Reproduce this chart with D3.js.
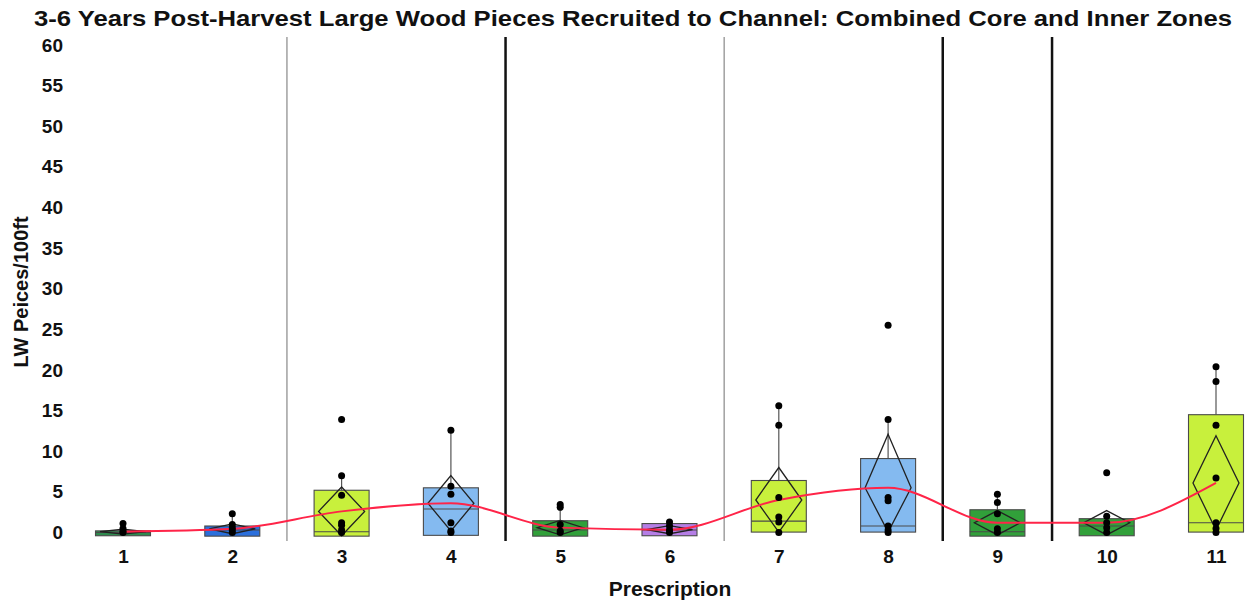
<!DOCTYPE html>
<html><head><meta charset="utf-8">
<script src="https://cdn.jsdelivr.net/npm/d3@7"></script>
<style>body{margin:0;background:#fff}svg{display:block}text{font-family:"Liberation Sans",Arial,sans-serif;font-weight:bold;fill:#111}</style>
</head><body><svg id="c" width="1249" height="605"></svg>
<script>
const categories = ["1","2","3","4","5","6","7","8","9","10","11"];
const q1Values     = [-0.4,-0.45,-0.45,-0.35,-0.45,-0.4,0.05,0.05,-0.45,-0.4,0.05];
const medianValues = [0,0.3,0.1,2.9,0.3,0.3,1.4,0.8,0.1,0.8,1.2];
const q3Values     = [0.2,0.8,5.2,5.5,1.45,1.1,6.4,9.1,2.8,1.7,14.5];
const whiskerHi    = [1.1,2.3,7.0,12.6,3.45,1.3,15.6,13.9,4.7,2.0,20.4];
const meanValues   = [0.1,0.45,2.6,3.6,0.6,0.35,4.0,5.5,1.2,1.2,6.1];
const ciHalf       = [0.3,0.6,3.0,3.4,0.9,0.5,4.0,6.6,1.5,1.5,5.8];
const pointValues  = [
  [0,0.2,0.5,1.1],
  [0,0.3,0.6,1.0,2.3],
  [0,0.3,0.9,1.2,4.6,7.0,13.9],
  [0,0.2,1.2,4.7,5.7,12.6],
  [0,0.2,1.0,3.1,3.45],
  [0,0.3,0.8,1.3],
  [0,1.3,1.9,4.3,13.2,15.6],
  [0,0.3,0.8,3.9,4.3,13.9,25.5],
  [0,0.45,2.3,3.7,4.7],
  [0,0.6,1.2,2.0,7.35],
  [0,0.5,1.2,6.7,13.2,18.6,20.4]
];
const boxColors = ["#2e8b4e","#2b6fdc","#c8f03c","#84baf0","#31a03a","#b57ee6","#c8f03c","#84baf0","#31a03a","#31a03a","#c8f03c"];
const separators = [{after:"2",kind:"thin"},{after:"4",kind:"thick"},{after:"6",kind:"thin"},{after:"8",kind:"thick"},{after:"9",kind:"thick"}];
const yTicks = d3.range(0,61,5);
const titleText = "3-6 Years Post-Harvest Large Wood Pieces Recruited to Channel: Combined Core and Inner Zones";

const svg = d3.select("#c");
const x = d3.scalePoint().domain(categories).range([123,1216]);
const y = d3.scaleLinear().domain([0,60]).range([532.5,45]);
const step = x.step();
const boxW = 55, diaW = 46;

separators.forEach(s=>{
  const xi = x(s.after)+step/2;
  svg.append("line").attr("x1",xi).attr("x2",xi).attr("y1",37).attr("y2",541)
    .attr("stroke",s.kind==="thick"?"#111":"#888").attr("stroke-width",s.kind==="thick"?2.5:1.2);
});

const ya = svg.append("g").attr("transform","translate(63,0)")
  .call(d3.axisLeft(y).tickValues(yTicks).tickSize(0).tickPadding(0));
ya.select(".domain").remove();
ya.selectAll("text").style("font-size","19px").style("font-family","'Liberation Sans',Arial,sans-serif").style("font-weight","bold").attr("fill","#111");

const xa = svg.append("g").attr("transform","translate(0,549)")
  .call(d3.axisBottom(x).tickSize(0).tickPadding(0));
xa.select(".domain").remove();
xa.selectAll("text").style("font-size","19px").style("font-family","'Liberation Sans',Arial,sans-serif").style("font-weight","bold").attr("fill","#111");

const g = svg.append("g");
categories.forEach((c,i)=>{
  const cx = x(c);
  g.append("line").attr("x1",cx).attr("x2",cx).attr("y1",y(q3Values[i])).attr("y2",y(whiskerHi[i]))
    .attr("stroke","#555").attr("stroke-width",1.2);
  g.append("rect").attr("x",cx-boxW/2).attr("width",boxW)
    .attr("y",y(q3Values[i])).attr("height",y(q1Values[i])-y(q3Values[i]))
    .attr("fill",boxColors[i]).attr("stroke","#4a4a4a").attr("stroke-width",1.1);
  g.append("line").attr("x1",cx-boxW/2).attr("x2",cx+boxW/2).attr("y1",y(medianValues[i])).attr("y2",y(medianValues[i]))
    .attr("stroke","#4a4a4a").attr("stroke-width",1.1);
  const m = meanValues[i], h = ciHalf[i];
  const top = y(m+h), bot = Math.min(y(m-h), y(q1Values[i])), mid = y(m);
  g.append("path").attr("d",`M${cx},${top}L${cx+diaW/2},${mid}L${cx},${bot}L${cx-diaW/2},${mid}Z`)
    .attr("fill","none").attr("stroke","#222").attr("stroke-width",1.3);
});

svg.append("path").datum(categories.map((c,i)=>[x(c),y(meanValues[i])]))
  .attr("d",d3.line().curve(d3.curveMonotoneX))
  .attr("fill","none").attr("stroke","#ff2448").attr("stroke-width",2);

categories.forEach((c,i)=>{
  svg.append("g").selectAll("circle").data(pointValues[i]).join("circle")
    .attr("cx",x(c)).attr("cy",d=>y(d)).attr("r",3.5).attr("fill","#000");
});

svg.append("text").attr("x",633).attr("y",26).attr("text-anchor","middle")
  .attr("textLength",1198).attr("lengthAdjust","spacingAndGlyphs")
  .style("font-size","22px").text(titleText);
svg.append("text").attr("transform","translate(28,292) rotate(-90)").attr("text-anchor","middle")
  .style("font-size","20px").text("LW Peices/100ft");
svg.append("text").attr("x",670).attr("y",596).attr("text-anchor","middle")
  .style("font-size","21px").text("Prescription");
</script></body></html>
